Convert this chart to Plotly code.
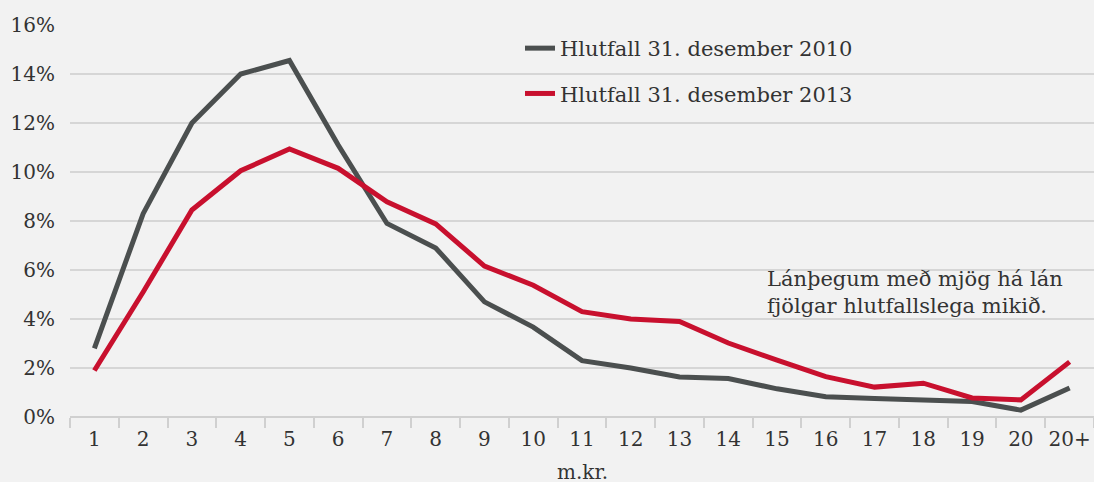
import plotly.graph_objects as go

categories = ["1", "2", "3", "4", "5", "6", "7", "8", "9", "10", "11", "12", "13", "14", "15", "16", "17", "18", "19", "20", "20+"]
share_2010 = [2.8, 8.3, 12.0, 14.0, 14.55, 11.1, 7.9, 6.9, 4.7, 3.67, 2.3, 2.0, 1.63, 1.57, 1.15, 0.83, 0.76, 0.7, 0.63, 0.28, 1.18]
share_2013 = [1.9, 5.1, 8.45, 10.05, 10.94, 10.15, 8.78, 7.88, 6.16, 5.38, 4.3, 4.0, 3.9, 3.02, 2.32, 1.65, 1.22, 1.38, 0.78, 0.7, 2.25]
y_ticks = [0, 2, 4, 6, 8, 10, 12, 14, 16]
y_tick_labels = [f"{v}%" for v in y_ticks]
x_title = "m.kr."

FONT = "DejaVu Serif"
TXT = "#333333"

fig = go.Figure()
fig.add_trace(go.Scatter(x=categories, y=share_2010, mode="lines", name="Hlutfall 31. desember 2010",
                         legendgroup="a", line=dict(color="#4b4f4f", width=5)))
fig.add_trace(go.Scatter(x=categories, y=share_2013, mode="lines", name="Hlutfall 31. desember 2013",
                         legendgroup="b", line=dict(color="#c8102e", width=5)))

fig.update_layout(
    width=1094, height=482,
    margin=dict(l=70, r=0, t=25, b=65),
    paper_bgcolor="#f2f2f2", plot_bgcolor="#f2f2f2",
    font=dict(family=FONT, size=19, color=TXT),
    legend=dict(x=(520 - 70) / 1024, y=(417 - 28) / 392, xanchor="left", yanchor="top",
                bgcolor="rgba(0,0,0,0)", tracegroupgap=15, traceorder="grouped",
                font=dict(family=FONT, size=21, color=TXT)),
    annotations=[
        dict(xref="paper", yref="paper", x=(765 - 70) / 1024, y=(417 - 292) / 392,
             xanchor="left", yanchor="middle", align="left", showarrow=False,
             text="Lánþegum með mjög há lán<br>fjölgar hlutfallslega mikið.",
             font=dict(family=FONT, size=21, color=TXT)),
        dict(xref="paper", yref="paper", x=0.5, y=(417 - 472) / 392,
             xanchor="center", yanchor="middle", showarrow=False, text=x_title,
             font=dict(family=FONT, size=20, color=TXT)),
    ],
)
fig.update_xaxes(type="category", range=[-0.5, len(categories) - 0.5], tickson="boundaries",
                 ticks="outside", ticklen=10, tickcolor="#d0d0d0", tickwidth=1.5, tickangle=0,
                 ticklabelstandoff=8,
                 automargin=False, showgrid=False, showline=False, zeroline=False,
                 tickfont=dict(family=FONT, size=20, color=TXT))
fig.update_yaxes(range=[0, 16], tickvals=y_ticks, ticktext=y_tick_labels, showgrid=True, automargin=False,
                 ticklabelstandoff=14,
                 gridcolor="#d6d6d6", gridwidth=1.5, zeroline=True, zerolinecolor="#d0d0d0", zerolinewidth=1.5,
                 showline=False, ticks="", tickfont=dict(family=FONT, size=20, color=TXT))

fig.write_html("out.html", config={"displayModeBar": False},
               post_script="document.body.style.margin='0';document.body.style.overflow='hidden';")
